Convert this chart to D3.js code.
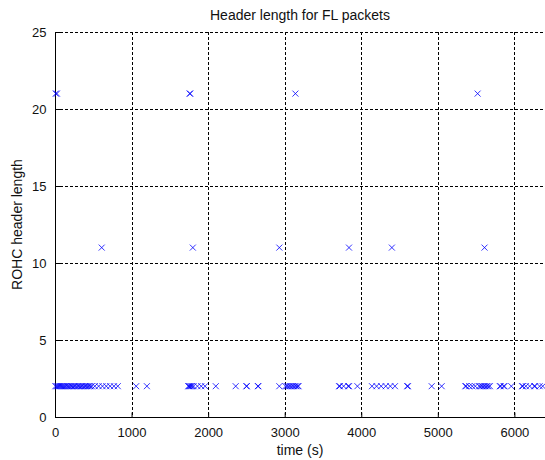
<!DOCTYPE html>
<html>
<head>
<meta charset="utf-8">
<script src="https://cdn.jsdelivr.net/npm/d3@7"></script>
<style>
  html, body { margin: 0; padding: 0; background: #ffffff; }
  svg { display: block; }
  text { font-family: "Liberation Sans", Arial, sans-serif; fill: #111; }
</style>
</head>
<body>
<svg id="chart" width="545" height="460"></svg>
<script>
// ---- data ----
const title = "Header length for FL packets";
const xLabel = "time (s)";
const yLabel = "ROHC header length";
const xTicks = [0, 1000, 2000, 3000, 4000, 5000, 6000];
const yTicks = [0, 5, 10, 15, 20, 25];

// packets with header length 2
const times2 = [5, 20, 35, 50, 65, 80, 95, 110, 125, 140, 160, 175, 190, 210, 225, 245, 260, 280,
  300, 315, 335, 350, 370, 390, 405, 425, 440, 460, 480,
  520, 570, 620, 670, 720, 770, 820,
  1060, 1200,
  1740, 1750, 1760, 1775, 1790, 1810, 1860, 1910, 1960,
  2100, 2360, 2500, 2505, 2650, 2655,
  2930, 3010, 3030, 3050, 3070, 3090, 3110, 3130, 3150, 3170, 3180,
  3710, 3720, 3770, 3830, 3840, 3950,
  4140, 4200, 4260, 4320, 4380, 4440,
  4600, 4610,
  4920, 5050,
  5360, 5370, 5410, 5450, 5490, 5540, 5560, 5580, 5600, 5620, 5640, 5660, 5680,
  5810, 5820, 5860, 5870, 5960,
  6100, 6110, 6150, 6200, 6260, 6270, 6330, 6370];
// packets with header length 11
const times11 = [610, 1800, 2930, 3840, 4400, 5610];
// packets with header length 21
const times21 = [10, 25, 1760, 1765, 3140, 5520];

const points = [
  ...times2.map(t => ({t: t, h: 2})),
  ...times11.map(t => ({t: t, h: 11})),
  ...times21.map(t => ({t: t, h: 21}))
];

// ---- layout ----
const svg = d3.select("#chart");
const padL = 55, padR = 545, padT = 32, padB = 417;

const x = d3.scaleLinear().domain([0, 6400]).range([padL, padR]);
const y = d3.scaleLinear().domain([0, 25]).range([padB, padT]);

// grid
const grid = svg.append("g");
grid.selectAll("line.vx").data(xTicks.filter(d => d > 0)).join("line")
  .attr("x1", d => Math.round(x(d)) + 0.5).attr("x2", d => Math.round(x(d)) + 0.5)
  .attr("y1", padT).attr("y2", padB)
  .attr("stroke", "#000").attr("stroke-width", 1).attr("stroke-dasharray", "3,2");
grid.selectAll("line.hy").data(yTicks.filter(d => d > 0)).join("line")
  .attr("y1", d => Math.round(y(d)) + 0.5).attr("y2", d => Math.round(y(d)) + 0.5)
  .attr("x1", padL).attr("x2", padR)
  .attr("stroke", "#000").attr("stroke-width", 1).attr("stroke-dasharray", "3,2");

// axes
const xAxis = d3.axisBottom(x).tickValues(xTicks).tickSizeInner(-5).tickSizeOuter(0).tickPadding(10)
  .tickFormat(d3.format("d"));
const gx = svg.append("g").attr("transform", `translate(0,${padB + 0.5})`).call(xAxis);
gx.select(".domain").attr("stroke", "#000").attr("d", `M${padL},0H${padR}`);
gx.selectAll(".tick line").attr("stroke", "#000");
gx.selectAll(".tick text").attr("font-size", 13).attr("fill", "#111")
  .attr("font-family", "Liberation Sans, Arial, sans-serif");

const yAxis = d3.axisLeft(y).tickValues(yTicks).tickSizeInner(-5).tickSizeOuter(0).tickPadding(9);
const gy = svg.append("g").attr("transform", `translate(${padL + 0.5},0)`).call(yAxis);
gy.select(".domain").attr("stroke", "#000").attr("d", `M0,${padT}V${padB}`);
gy.selectAll(".tick line").attr("stroke", "#000");
gy.selectAll(".tick text").attr("font-size", 13).attr("fill", "#111")
  .attr("font-family", "Liberation Sans, Arial, sans-serif");

// markers
const s = 3;
svg.append("g").selectAll("path").data(points).join("path")
  .attr("d", d => {
    const cx = x(d.t), cy = y(d.h);
    return `M${cx - s},${cy - s}L${cx + s},${cy + s}M${cx - s},${cy + s}L${cx + s},${cy - s}`;
  })
  .attr("stroke", "#0000ff").attr("stroke-width", 0.8).attr("fill", "none");

// labels
svg.append("text").attr("x", 300).attr("y", 20).attr("text-anchor", "middle")
  .attr("font-size", 14).text(title);
svg.append("text").attr("x", 300).attr("y", 455).attr("text-anchor", "middle")
  .attr("font-size", 14).text(xLabel);
svg.append("text").attr("transform", `translate(22,${(padT + padB) / 2}) rotate(-90)`)
  .attr("text-anchor", "middle").attr("font-size", 14).text(yLabel);
</script>
</body>
</html>
